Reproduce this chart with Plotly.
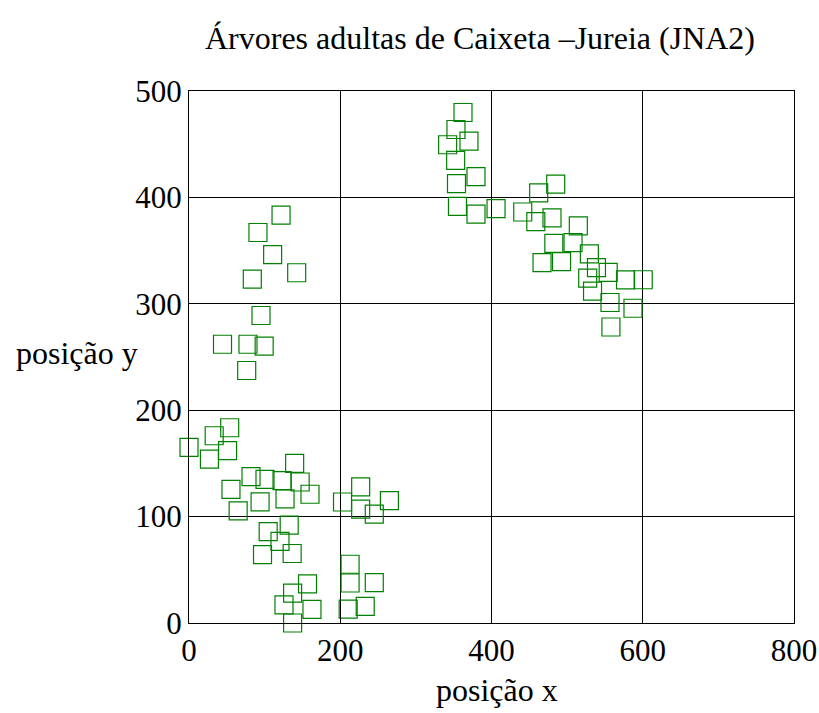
import plotly.graph_objects as go

x_vals = [53.8, 33.3, 0, 27, 51, 139.7, 82, 100.5, 123, 147, 55.5, 160, 94, 127, 65,
          132.5, 104.7, 120.3, 97.2, 136.4, 203, 227, 227, 245, 265, 213, 213, 245, 210.5, 233,
          156.7, 137, 125.6, 162.6, 137,
          121.7, 91.2, 110.6, 142.4, 83.7, 95.2, 44.3, 78, 99.4, 76.3,
          362.3, 353, 370.2, 342, 352.6, 379.5, 353.7, 355, 379.5, 406,
          462.4, 484.9, 441.3, 458.6, 480, 514.8, 482.4, 507.8, 529.4, 466.8,
          492.6, 538.8, 554.3, 577.2, 600.6, 527.2, 533.6, 556.7, 587.1, 557.9]
y_vals = [183.5, 176, 165, 154, 162, 150, 137.5, 135, 133.8, 132.5, 125.6, 121, 113.9, 116.7, 105.3,
          92, 85.9, 76.8, 64.3, 65.3, 113.7, 128, 107, 102.3, 115, 55.2, 37.6, 38, 13, 15.6,
          36.7, 28, 17, 12.8, 0,
          383.3, 367, 346.2, 329.2, 323.2, 289, 262, 262, 260.3, 237.3,
          479.8, 463.8, 452.8, 449.5, 434.8, 419.6, 413, 391.6, 384.2, 389.4,
          404.2, 412.4, 386.3, 377.2, 380.7, 373.3, 356.8, 357.5, 346.9, 338.7,
          339.7, 334, 329.6, 322.5, 322.6, 324.2, 312, 301.2, 295.8, 278.2]

x_ticks = [0, 200, 400, 600, 800]
y_ticks = [0, 100, 200, 300, 400, 500]

title_text = "Árvores adultas de Caixeta –Jureia (JNA2)"
x_title = "posição x"
y_title = "posição y"

font_family = "Liberation Serif, Times New Roman, serif"

L, R, T, B = 189, 25, 91, 90
PW, PH = 819 - L - R, 713 - T - B

fig = go.Figure()
fig.add_trace(go.Scatter(
    x=x_vals, y=y_vals, mode="markers",
    marker=dict(symbol="square-open", size=18, color="#008000", line=dict(width=1.2, color="#008000")),
    cliponaxis=False, showlegend=False,
))

fig.update_layout(
    width=819, height=713,
    margin=dict(l=L, r=R, t=T, b=B),
    paper_bgcolor="white", plot_bgcolor="white",
    font=dict(family=font_family, color="black", size=31),
    title=dict(text=title_text, x=480 / 819, xanchor="center", y=1 - 38 / 713, yanchor="middle",
               font=dict(family=font_family, size=32, color="black")),
    xaxis=dict(range=[0, 800], tickvals=x_ticks, ticktext=[str(v) for v in x_ticks],
               showgrid=True, gridcolor="black", gridwidth=1, zeroline=False,
               showline=True, linecolor="black", linewidth=1, mirror=True,
               ticks="inside", ticklen=8, tickcolor="black",
               tickfont=dict(family=font_family, size=31),
               automargin=False),
    yaxis=dict(range=[0, 500], tickvals=y_ticks, ticktext=[str(v) for v in y_ticks],
               showgrid=True, gridcolor="black", gridwidth=1, zeroline=False,
               showline=True, linecolor="black", linewidth=1, mirror=True,
               ticks="inside", ticklen=8, tickcolor="black",
               automargin=False,
               tickfont=dict(family=font_family, size=31)),
    annotations=[
        dict(text=y_title, x=(77 - L) / PW, xref="paper", yref="paper", y=(713 - B - 353) / PH,
             xanchor="center", yanchor="middle", showarrow=False,
             font=dict(family=font_family, size=32, color="black")),
        dict(text=x_title, x=(497 - L) / PW, xref="paper", yref="paper", y=(713 - B - 690) / PH,
             xanchor="center", yanchor="middle", showarrow=False,
             font=dict(family=font_family, size=32, color="black")),
    ],
)

fig.write_html("out.html")
